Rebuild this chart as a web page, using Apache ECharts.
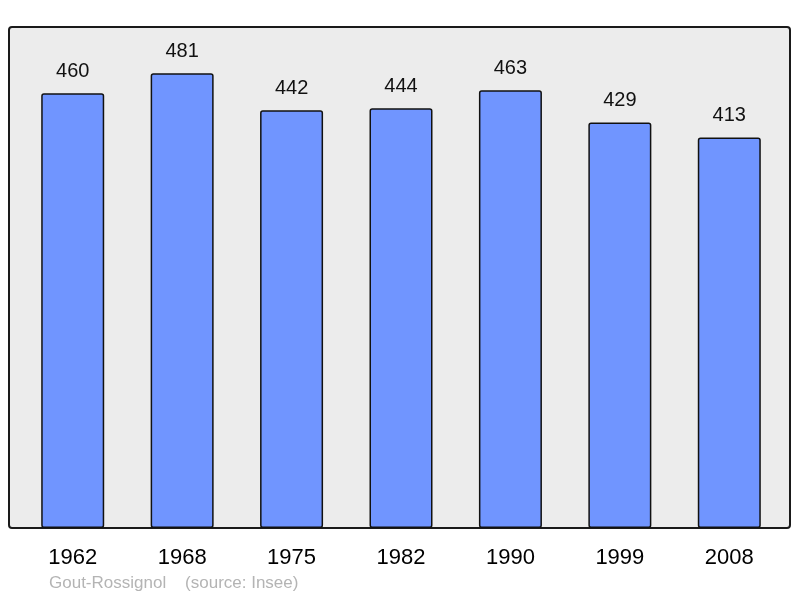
<!DOCTYPE html>
<html>
<head>
<meta charset="utf-8">
<script src="https://cdn.jsdelivr.net/npm/echarts@6/dist/echarts.min.js"></script>
<style>
html,body{margin:0;padding:0;background:#fff;}
#chart{width:800px;height:598px;}
</style>
</head>
<body>
<div id="chart"></div>
<script>
const years = ['1962', '1968', '1975', '1982', '1990', '1999', '2008'];
const population = [460, 481, 442, 444, 463, 429, 413];
const footerText = 'Gout-Rossignol    (source: Insee)';

const chart = echarts.init(document.getElementById('chart'), null, {renderer: 'canvas'});
chart.setOption({
  animation: false,
  backgroundColor: '#ffffff',
  textStyle: {fontFamily: 'Liberation Sans, Arial, sans-serif'},
  graphic: [
    {
      type: 'rect',
      z: -10,
      shape: {x: 9, y: 27, width: 781, height: 501, r: 3},
      style: {fill: '#ececec', stroke: '#1a1a1a', lineWidth: 2}
    },
    {
      type: 'text',
      left: 49,
      top: 575,
      style: {text: footerText, fill: '#b4b4b4', fontSize: 17, fontFamily: 'Liberation Sans, Arial, sans-serif'}
    }
  ],
  grid: {left: 18, right: 16, top: 27, bottom: 70, containLabel: false},
  xAxis: {
    type: 'category',
    data: years,
    axisLine: {show: false},
    axisTick: {show: false},
    axisLabel: {color: '#000', fontSize: 22, margin: 19}
  },
  yAxis: {
    type: 'value',
    min: 0,
    max: 530,
    show: false,
    splitLine: {show: false}
  },
  series: [{
    type: 'bar',
    data: population,
    barWidth: 63,
    itemStyle: {color: '#7095ff', borderColor: '#111', borderWidth: 1.5, borderRadius: 2},
    label: {show: true, position: 'top', distance: 12, color: '#111', fontSize: 20}
  }]
});
</script>
</body>
</html>
